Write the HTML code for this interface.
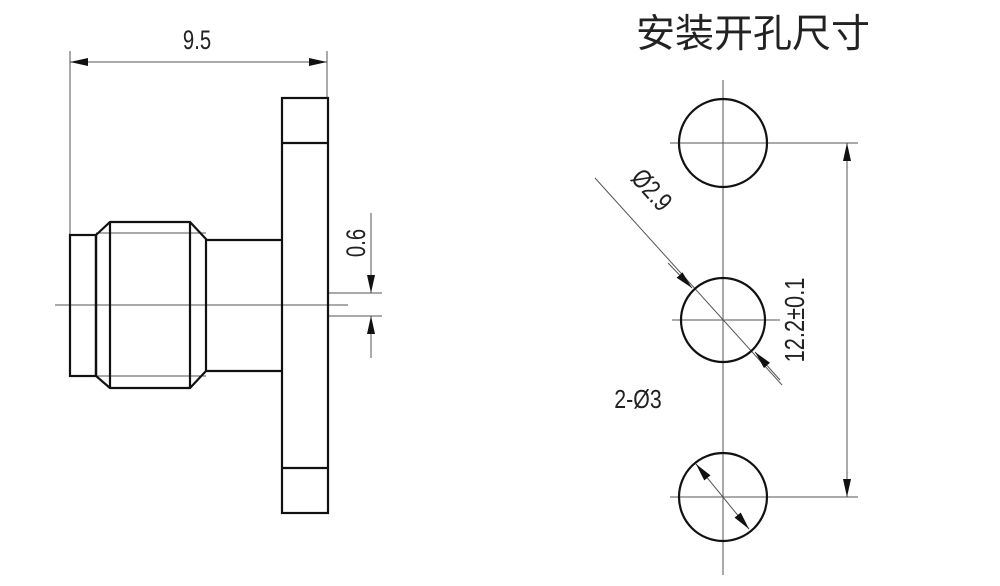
<!DOCTYPE html>
<html><head><meta charset="utf-8"><style>
html,body{margin:0;padding:0;background:#fff;width:1000px;height:586px;overflow:hidden}
svg{display:block}
text{font-family:"Liberation Sans","Noto Sans CJK SC",sans-serif;fill:#222}
</style></head><body>
<svg width="1000" height="586" viewBox="0 0 1000 586" xmlns="http://www.w3.org/2000/svg">
<defs>
<marker id="a" viewBox="0 0 10 10" refX="10" refY="5" markerWidth="18" markerHeight="8" markerUnits="userSpaceOnUse" orient="auto-start-reverse" preserveAspectRatio="none"><path d="M0,0 L10,5 L0,10 z" fill="#111"/></marker>
</defs>
<g stroke="#111" fill="none">
<g stroke-width="1" stroke="#555">
<line x1="70" y1="51" x2="70" y2="235"/>
<line x1="327" y1="51" x2="327" y2="98"/>
<line x1="70" y1="62" x2="327" y2="62" marker-start="url(#a)" marker-end="url(#a)"/>
<line x1="55" y1="305" x2="348" y2="305"/>
<line x1="328" y1="293" x2="382" y2="293"/>
<line x1="328" y1="316" x2="382" y2="316"/>
<line x1="371" y1="213" x2="371" y2="293" marker-end="url(#a)"/>
<line x1="371" y1="358" x2="371" y2="316" marker-end="url(#a)"/>
<line x1="96" y1="233" x2="206" y2="233"/>
<line x1="96" y1="376" x2="206" y2="376"/>
<line x1="723" y1="80" x2="723" y2="575"/>
<line x1="670" y1="143" x2="858" y2="143"/>
<line x1="672" y1="320" x2="780" y2="320"/>
<line x1="670" y1="497" x2="858" y2="497"/>
<line x1="847" y1="143" x2="847" y2="497" marker-start="url(#a)" marker-end="url(#a)"/>
<line x1="595" y1="178" x2="782" y2="385"/>
<line x1="668" y1="263" x2="692" y2="288" marker-end="url(#a)"/>
<line x1="780" y1="380" x2="755" y2="352" marker-end="url(#a)"/>
<line x1="696" y1="464" x2="749" y2="529" marker-start="url(#a)" marker-end="url(#a)"/>
</g>
<g stroke-width="2.2">
<rect x="282" y="98" width="46" height="415"/>
<line x1="282" y1="143" x2="328" y2="143"/>
<line x1="282" y1="468" x2="328" y2="468"/>
<rect x="70" y="235" width="26" height="141"/>
<path d="M96,235 L110,222 L190,222 L206,239 L206,371 L190,388 L110,388 L96,376 Z"/>
<line x1="110" y1="222" x2="110" y2="388"/>
<line x1="190" y1="222" x2="190" y2="388"/>
<line x1="96" y1="235" x2="96" y2="376"/>
<path d="M206,240 L282,240 M206,371 L282,371"/>
<circle cx="723" cy="143" r="44"/>
<circle cx="723" cy="320" r="42"/>
<circle cx="723" cy="497" r="44"/>
</g>
</g>
<text transform="translate(197,49) scale(0.75,1)" font-size="27" text-anchor="middle">9.5</text>
<text transform="translate(365,243) rotate(-90) scale(0.75,1)" font-size="27" text-anchor="middle">0.6</text>
<text transform="translate(804,320) rotate(-90) scale(0.78,1)" font-size="28" text-anchor="middle">12.2±0.1</text>
<text transform="translate(645,196) rotate(48) scale(0.78,1)" font-size="27" text-anchor="middle">Ø2.9</text>
<text transform="translate(638,408) scale(0.82,1)" font-size="26" text-anchor="middle">2-Ø3</text>
<text x="753" y="47" font-size="39" text-anchor="middle" font-family="Noto Sans CJK SC,sans-serif">安装开孔尺寸</text>
</svg>
</body></html>
